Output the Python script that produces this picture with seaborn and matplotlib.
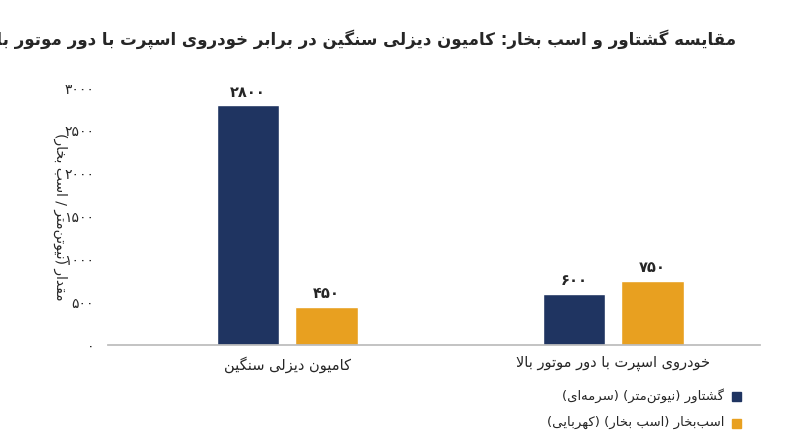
import matplotlib
matplotlib.use("Agg")
import matplotlib.pyplot as plt
import seaborn as sns
import pandas as pd

FORMS = {
 '\u0627':('\uFE8D','\uFE8E',None,None),
 '\u0628':('\uFE8F','\uFE90','\uFE91','\uFE92'),
 '\u062A':('\uFE95','\uFE96','\uFE97','\uFE98'),
 '\u062E':('\uFEA5','\uFEA6','\uFEA7','\uFEA8'),
 '\u062F':('\uFEA9','\uFEAA',None,None),
 '\u0631':('\uFEAD','\uFEAE',None,None),
 '\u0632':('\uFEAF','\uFEB0',None,None),
 '\u0633':('\uFEB1','\uFEB2','\uFEB3','\uFEB4'),
 '\u0634':('\uFEB5','\uFEB6','\uFEB7','\uFEB8'),
 '\u0642':('\uFED5','\uFED6','\uFED7','\uFED8'),
 '\u0644':('\uFEDD','\uFEDE','\uFEDF','\uFEE0'),
 '\u0645':('\uFEE1','\uFEE2','\uFEE3','\uFEE4'),
 '\u0646':('\uFEE5','\uFEE6','\uFEE7','\uFEE8'),
 '\u0647':('\uFEE9','\uFEEA','\uFEEB','\uFEEC'),
 '\u0648':('\uFEED','\uFEEE',None,None),
 '\u067E':('\uFB56','\uFB57','\uFB58','\uFB59'),
 '\u06A9':('\uFB8E','\uFB8F','\uFB90','\uFB91'),
 '\u06AF':('\uFB92','\uFB93','\uFB94','\uFB95'),
 '\u06CC':('\uFBFC','\uFBFD','\uFBFE','\uFBFF'),
}

def shape(s):
    chars = list(s)
    out = []
    n = len(chars)
    i = 0
    def joins_next(c):
        return c in FORMS and FORMS[c][2] is not None
    while i < n:
        c = chars[i]
        if c not in FORMS:
            out.append('' if c == '\u200c' else c); i += 1; continue
        prev = chars[i-1] if i > 0 else ''
        jp = joins_next(prev)
        if c == '\u0644' and i+1 < n and chars[i+1] == '\u0627':
            out.append('\uFEFC' if jp else '\uFEFB'); i += 2; continue
        nxt = chars[i+1] if i+1 < n else ''
        jn = joins_next(c) and nxt in FORMS
        iso, fin, ini, med = FORMS[c]
        if jp and jn: out.append(med)
        elif jp: out.append(fin)
        elif jn: out.append(ini)
        else: out.append(iso)
        i += 1
    vis = ''.join(out)[::-1]
    return vis.translate(str.maketrans('()', ')('))

def fa_num(v):
    return str(v).translate(str.maketrans('0123456789', '۰۱۲۳۴۵۶۷۸۹'))

categories = ["کامیون دیزلی سنگین", "خودروی اسپرت با دور موتور بالا"]
series = ["گشتاور (نیوتن‌متر) (سرمه‌ای)", "اسب‌بخار (اسب بخار) (کهربایی)"]
torque = [2800, 600]
horsepower = [450, 750]
yticks = [0, 500, 1000, 1500, 2000, 2500, 3000]
title = "مقایسه گشتاور و اسب بخار: کامیون دیزلی سنگین در برابر خودروی اسپرت با دور موتور بالا"
ylabel = "مقدار (نیوتن‌متر / اسب بخار)"

df = pd.DataFrame({
    "cat": [shape(c) for c in categories] * 2,
    "series": [shape(series[0])] * 2 + [shape(series[1])] * 2,
    "val": torque + horsepower,
})

sns.set_theme(style="white")
plt.rcParams['font.family'] = ['DejaVu Sans', 'Noto Sans']

fig = plt.figure(figsize=(8, 4.47), dpi=100)
ax = fig.add_axes([0.135, 0.228, 0.815, 0.575])
colors = ["#1f3461", "#e8a020"]
sns.barplot(data=df, x="cat", y="val", hue="series", palette=colors,
            saturation=1, width=0.48, gap=0.2, ax=ax, legend=False)
ax.set_xlim(-0.55, 1.45)
ax.set_ylim(0, 3000)
ax.set_yticks(yticks)
ax.set_yticklabels([fa_num(t) for t in yticks], fontsize=10)
ax.tick_params(axis='x', labelsize=10.5, length=0, pad=8)
ax.tick_params(axis='y', length=0, pad=10)
ax.set_xlabel("")
ax.set_ylabel(shape(ylabel), rotation=270, fontsize=10)
ax.yaxis.set_label_coords(-0.085, 0.5)
for s in ["top", "right", "left"]:
    ax.spines[s].set_visible(False)
ax.spines["bottom"].set_color("#bbbbbb")
for cont in ax.containers:
    ax.bar_label(cont, labels=[fa_num(int(v)) for v in cont.datavalues],
                 padding=4, fontsize=10.5, fontweight="bold")

fig.text(0.92, 0.9, shape(title), ha="right", fontsize=12, fontweight="bold")

for k, (s, c) in enumerate(zip(series, colors)):
    y = 0.115 - k * 0.06
    fig.text(0.905, y, shape(s), ha="right", va="center", fontsize=9.5)
    fig.patches.append(plt.Rectangle((0.915, y - 0.012), 0.011, 0.02,
                                     transform=fig.transFigure, color=c, figure=fig))

fig.savefig("out.png", dpi=100)
